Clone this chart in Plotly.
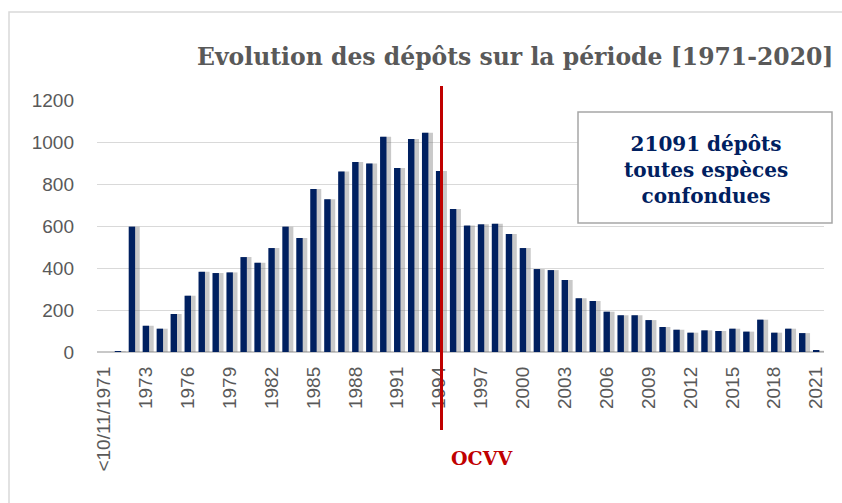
import plotly.graph_objects as go

# categories: one slot before the official start, then one per year
categories = ["<10/11/1971"] + [str(y) for y in range(1971, 2022)]

depots = [
    0, 3, 597, 125, 111, 181, 268, 382, 376, 379,          # <10/11/1971, 1971-1979
    452, 425, 495, 597, 543, 776, 727, 859, 905, 898,       # 1980-1989
    1025, 876, 1014, 1044, 862, 681, 602, 608, 611, 562,    # 1990-1999
    495, 395, 390, 343, 256, 243, 192, 175, 175, 152,       # 2000-2009
    119, 106, 92, 103, 100, 111, 97, 154, 92, 111,          # 2010-2019
    90, 6,                                                  # 2020-2021
]

tick_labels = categories[::3]
y_ticks = [0, 200, 400, 600, 800, 1000, 1200]

NAVY = "#002060"
GREY_TXT = "#595959"
RED = "#C00000"

fig = go.Figure()

# soft drop shadow behind the bars
fig.add_trace(go.Bar(
    x=categories, y=depots,
    width=0.72, offset=-0.16,
    marker=dict(color="rgba(120,120,120,0.4)", line=dict(width=0)),
    hoverinfo="skip", showlegend=False,
))
fig.add_trace(go.Bar(
    x=categories, y=depots,
    width=0.46, offset=-0.23,
    marker=dict(color=NAVY, line=dict(width=0)),
    name="Dépôts", showlegend=False,
))

fig.update_layout(
    width=842, height=503,
    margin=dict(l=97, r=18, t=100, b=151),
    paper_bgcolor="white", plot_bgcolor="white",
    barmode="overlay",
    font=dict(family="Liberation Sans, Arial, sans-serif", color=GREY_TXT),
)

fig.update_xaxes(
    type="category",
    tickmode="array", tickvals=tick_labels, ticktext=tick_labels,
    tickangle=-90, tickfont=dict(size=19, color=GREY_TXT),
    ticks="", ticklabelstandoff=10,
    showgrid=False, showline=False, zeroline=False,
)
fig.update_yaxes(
    range=[0, 1200], tickvals=y_ticks,
    tickfont=dict(size=19, color=GREY_TXT),
    ticklabelstandoff=22,
    showgrid=True, gridcolor="#d9d9d9", gridwidth=1.3,
    zeroline=True, zerolinecolor="#c8c8c8", zerolinewidth=1.5,
    showline=False,
)

# title (Excel-style, overflowing to the right edge)
fig.add_annotation(
    text="<b>Evolution des dépôts sur la période [1971-2020]</b>",
    xref="paper", yref="paper", x=(195 - 97) / 727, y=(352 - 57) / 252,
    xanchor="left", yanchor="middle", showarrow=False,
    font=dict(family="DejaVu Serif, Liberation Serif, serif", size=23.5, color=GREY_TXT),
)

# outer chart frame
fig.add_shape(
    type="rect", xref="paper", yref="paper",
    x0=(9 - 97) / 727, x1=(850 - 97) / 727,
    y0=(352 - 510) / 252, y1=(352 - 12) / 252,
    line=dict(color="#d9d9d9", width=1.5), fillcolor="rgba(0,0,0,0)",
    layer="below",
)

# OCVV marker line
line_x = (441.5 - 97) / 727
fig.add_shape(
    type="line", xref="paper", yref="paper",
    x0=line_x, x1=line_x, y0=(352 - 430) / 252, y1=(352 - 86) / 252,
    line=dict(color=RED, width=3),
)
fig.add_annotation(
    text="<b>OCVV</b>",
    xref="paper", yref="paper", x=(482 - 97) / 727, y=(352 - 458) / 252,
    xanchor="center", yanchor="middle", showarrow=False,
    font=dict(family="DejaVu Serif, Liberation Serif, serif", size=19, color=RED),
)

# summary box
fig.add_shape(
    type="rect", xref="paper", yref="paper",
    x0=(578 - 97) / 727, x1=(832 - 97) / 727,
    y0=(352 - 223) / 252, y1=(352 - 112) / 252,
    line=dict(color="#a6a6a6", width=1.5), fillcolor="white",
)
fig.add_annotation(
    text="<b>21091 dépôts<br>toutes espèces<br>confondues</b>",
    xref="paper", yref="paper", x=(706 - 97) / 727, y=(352 - 170) / 252,
    xanchor="center", yanchor="middle", showarrow=False, align="center",
    font=dict(family="DejaVu Serif, Liberation Serif, serif", size=20, color=NAVY),
)

# drop the default 8px body margin so the figure sits at the page origin
fig.write_html(
    "out.html",
    config={"displayModeBar": False},
    post_script="document.body.style.margin = '0px';",
)
